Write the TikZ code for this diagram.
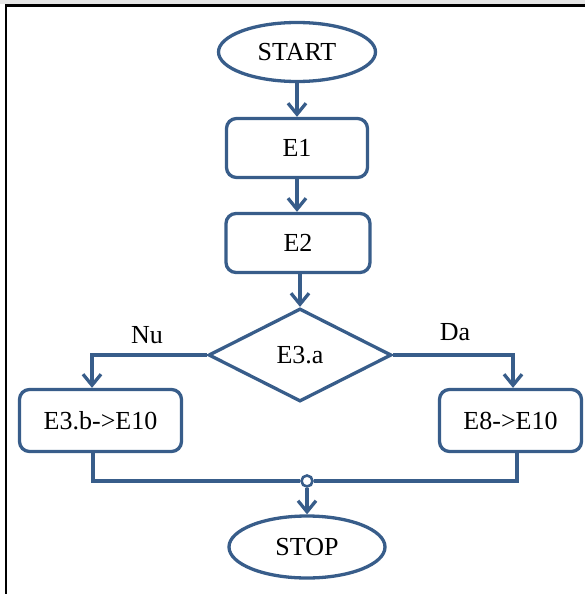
\documentclass[tikz,border=0pt]{standalone}
\usepackage{fontspec}
\setmainfont{Liberation Serif}
\usetikzlibrary{shapes.geometric,arrows.meta}
\definecolor{flowblue}{RGB}{56,93,138}
\tikzset{
  base/.style={draw=flowblue,line width=3.3pt,font=\fontsize{26pt}{29pt}\selectfont,text=black,inner sep=0pt},
  term/.style={base,ellipse},
  proc/.style={base,rectangle,rounded corners=10pt},
  decide/.style={base,diamond,aspect=2},
  link/.style={draw=flowblue,line width=3.3pt,line join=miter},
  arr/.style={link,-{Straight Barb[length=11pt,width=18pt]}},
  lbl/.style={font=\fontsize{26pt}{29pt}\selectfont,text=black,inner sep=0pt}
}
\begin{document}
\begin{tikzpicture}[x=1pt,y=-1pt]
\useasboundingbox (0,0) rectangle (585,594);
\fill[gray!20] (0,0) rectangle (585,4.2);
\draw[black,line width=2.5pt] (585,5.5) -- (6,5.5) -- (6,594);

\node[term,minimum width=157pt,minimum height=59pt] (start) at (297,52) {START};
\node[proc,minimum width=141pt,minimum height=59pt] (e1) at (297,148) {E1};
\node[proc,minimum width=144pt,minimum height=59pt] (e2) at (298,243) {E2};
\node[decide,minimum width=183pt,minimum height=93pt] (dia) at (300,355) {E3.a};
\node[proc,minimum width=162pt,minimum height=62pt] (left) at (100.5,420.5) {E3.b->E10};
\node[proc,minimum width=142pt,minimum height=62pt] (right) at (510.5,420.5) {E8->E10};
\node[term,minimum width=156pt,minimum height=62pt] (stop) at (307,547) {STOP};
\node[draw=flowblue,line width=2.6pt,fill=white,circle,minimum size=11pt,inner sep=0pt] (junc) at (307,481) {};

\node[lbl] (nu) at (147,335) {Nu};
\node[lbl] (da) at (455,332) {Da};

\draw[arr] (start.south) -- (start.south |- e1.north);
\draw[arr] (e1.south) -- (e1.south |- e2.north);
\draw[arr] (e2.south -| dia.north) -- (dia.north);
\draw[arr] (dia.west) -| ([xshift=-8.5pt]left.north);
\draw[arr] (dia.east) -| ([xshift=2.5pt]right.north);
\draw[link] ([xshift=-7.5pt]left.south) |- (junc.west);
\draw[link] ([xshift=6.5pt]right.south) |- (junc.east);
\draw[arr] (junc.south) -- (stop.north);
\end{tikzpicture}
\end{document}
